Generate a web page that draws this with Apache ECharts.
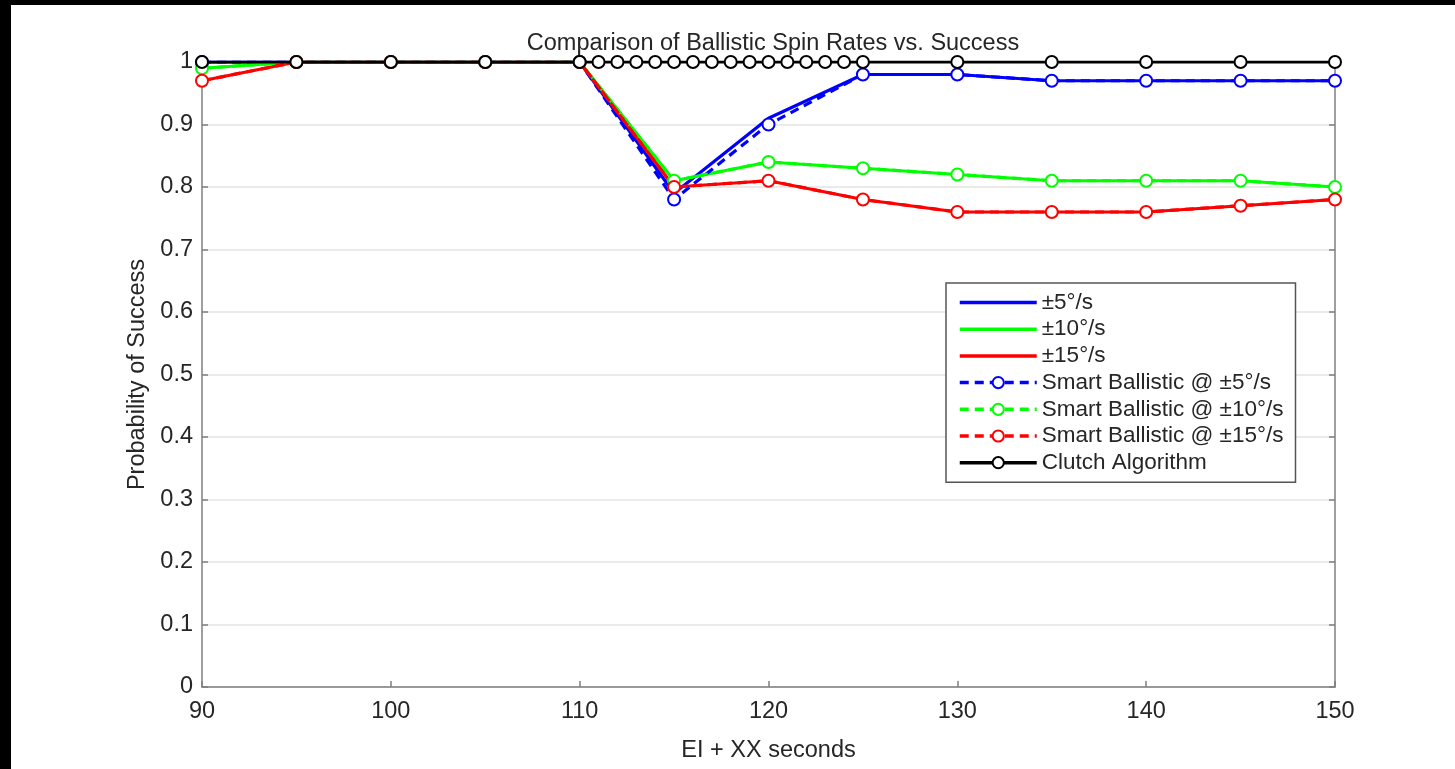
<!DOCTYPE html>
<html>
<head>
<meta charset="utf-8">
<script src="https://cdn.jsdelivr.net/npm/echarts@6/dist/echarts.min.js"></script>
<style>
  html, body {
    margin: 0;
    padding: 0;
    background: #000;
    width: 1455px;
    height: 769px;
    overflow: hidden;
  }
  #chart {
    position: absolute;
    left: 11px;
    top: 5px;
    width: 1444px;
    height: 764px;
    background: #fff;
  }
</style>
</head>
<body>
<div id="chart"></div>
<script>
// time after EI, seconds
const times = [90, 95, 100, 105, 110, 115, 120, 125, 130, 135, 140, 145, 150];
const rate5 = [1.0, 1.0, 1.0, 1.0, 1.0, 0.79, 0.91, 0.98, 0.98, 0.97, 0.97, 0.97, 0.97];
const rate10 = [0.99, 1.0, 1.0, 1.0, 1.0, 0.81, 0.84, 0.83, 0.82, 0.81, 0.81, 0.81, 0.80];
const rate15 = [0.97, 1.0, 1.0, 1.0, 1.0, 0.80, 0.81, 0.78, 0.76, 0.76, 0.76, 0.77, 0.78];
const smart5 = [1.0, 1.0, 1.0, 1.0, 1.0, 0.78, 0.90, 0.98, 0.98, 0.97, 0.97, 0.97, 0.97];
const smart10 = [0.99, 1.0, 1.0, 1.0, 1.0, 0.81, 0.84, 0.83, 0.82, 0.81, 0.81, 0.81, 0.80];
const smart15 = [0.97, 1.0, 1.0, 1.0, 1.0, 0.80, 0.81, 0.78, 0.76, 0.76, 0.76, 0.77, 0.78];
const clutchTimes = [90, 95, 100, 105, 110, 111, 112, 113, 114, 115, 116, 117, 118, 119, 120,
  121, 122, 123, 124, 125, 130, 135, 140, 145, 150];
const clutch = [1, 1, 1, 1, 1, 1, 1, 1, 1, 1, 1, 1, 1, 1, 1, 1, 1, 1, 1, 1, 1, 1, 1, 1, 1];

const names = ['±5°/s', '±10°/s', '±15°/s',
  'Smart Ballistic @ ±5°/s', 'Smart Ballistic @ ±10°/s', 'Smart Ballistic @ ±15°/s',
  'Clutch Algorithm'];

const font = 'Liberation Sans, Arial, Helvetica, sans-serif';
const axisGray = '#7f7f7f';
const textGray = '#262626';
const fs = 23.5;

const pairs = (xs, ys) => xs.map((x, i) => [x, ys[i]]);

const solid = (name, ys, color) => ({
  name: name,
  type: 'line',
  data: pairs(times, ys),
  symbol: 'none',
  lineStyle: { color: color, width: 3.2 },
  itemStyle: { color: color },
  z: 2
});

const dashed = (name, ys, color) => ({
  name: name,
  type: 'line',
  data: pairs(times, ys),
  symbol: 'emptyCircle',
  symbolSize: 12,
  lineStyle: { color: color, width: 3.2, type: [9, 6] },
  itemStyle: { color: color, borderWidth: 2.8 },
  z: 3
});

const chart = echarts.init(document.getElementById('chart'));

const option = {
  animation: false,
  title: {
    text: 'Comparison of Ballistic Spin Rates vs. Success',
    left: 757,
    textAlign: 'center',
    top: 22,
    textStyle: { fontFamily: font, fontSize: fs, fontWeight: 'normal', color: textGray }
  },
  legend: {
    orient: 'vertical',
    left: 935,
    top: 278,
    data: names.map((n, i) => i < 3 ? { name: n, itemStyle: { opacity: 0 } } : { name: n }),
    itemWidth: 77,
    itemHeight: 14,
    itemGap: 3.7,
    padding: [8, 12, 8, 12],
    borderColor: '#555',
    borderWidth: 1.5,
    backgroundColor: '#fff',
    lineStyle: { width: 3.5 },
    textStyle: { fontFamily: font, fontSize: 22.5, color: textGray }
  },
  grid: {
    left: 191,
    right: 120,
    top: 57,
    bottom: 82,
    containLabel: false
  },
  xAxis: {
    type: 'value',
    min: 90,
    max: 150,
    interval: 10,
    name: 'EI + XX seconds',
    nameLocation: 'middle',
    nameGap: 52,
    nameTextStyle: { fontFamily: font, fontSize: fs, color: textGray },
    axisLine: { onZero: false, lineStyle: { color: axisGray, width: 1.5 } },
    axisTick: { inside: true, length: 6, lineStyle: { color: axisGray, width: 1.5 } },
    axisLabel: { fontFamily: font, fontSize: fs, color: textGray, margin: 13 },
    splitLine: { show: false }
  },
  yAxis: [{
    type: 'value',
    min: 0,
    max: 1,
    interval: 0.1,
    name: 'Probability of Success',
    nameLocation: 'middle',
    nameGap: 48,
    nameTextStyle: { fontFamily: font, fontSize: fs, color: textGray },
    axisLine: { show: true, lineStyle: { color: axisGray, width: 1.5 } },
    axisTick: { show: true, inside: true, length: 6, lineStyle: { color: axisGray, width: 1.5 } },
    axisLabel: { fontFamily: font, fontSize: fs, color: textGray, margin: 9 },
    splitLine: { show: true, lineStyle: { color: '#e3e3e3', width: 1.5 } }
  }, {
    type: 'value',
    position: 'right',
    min: 0,
    max: 1,
    interval: 0.1,
    axisLine: { show: true, lineStyle: { color: axisGray, width: 1.5 } },
    axisTick: { show: true, inside: true, length: 6, lineStyle: { color: axisGray, width: 1.5 } },
    axisLabel: { show: false },
    splitLine: { show: false }
  }],
  series: [
    solid(names[0], rate5, '#0000ff'),
    solid(names[1], rate10, '#00ff00'),
    solid(names[2], rate15, '#ff0000'),
    dashed(names[3], smart5, '#0000ff'),
    dashed(names[4], smart10, '#00ff00'),
    dashed(names[5], smart15, '#ff0000'),
    {
      name: names[6],
      type: 'line',
      data: pairs(clutchTimes, clutch),
      symbol: 'emptyCircle',
      symbolSize: 12,
      lineStyle: { color: '#000', width: 3.2 },
      itemStyle: { color: '#000', borderWidth: 3.5 },
      z: 4
    }
  ]
};

chart.setOption(option);
</script>
</body>
</html>
